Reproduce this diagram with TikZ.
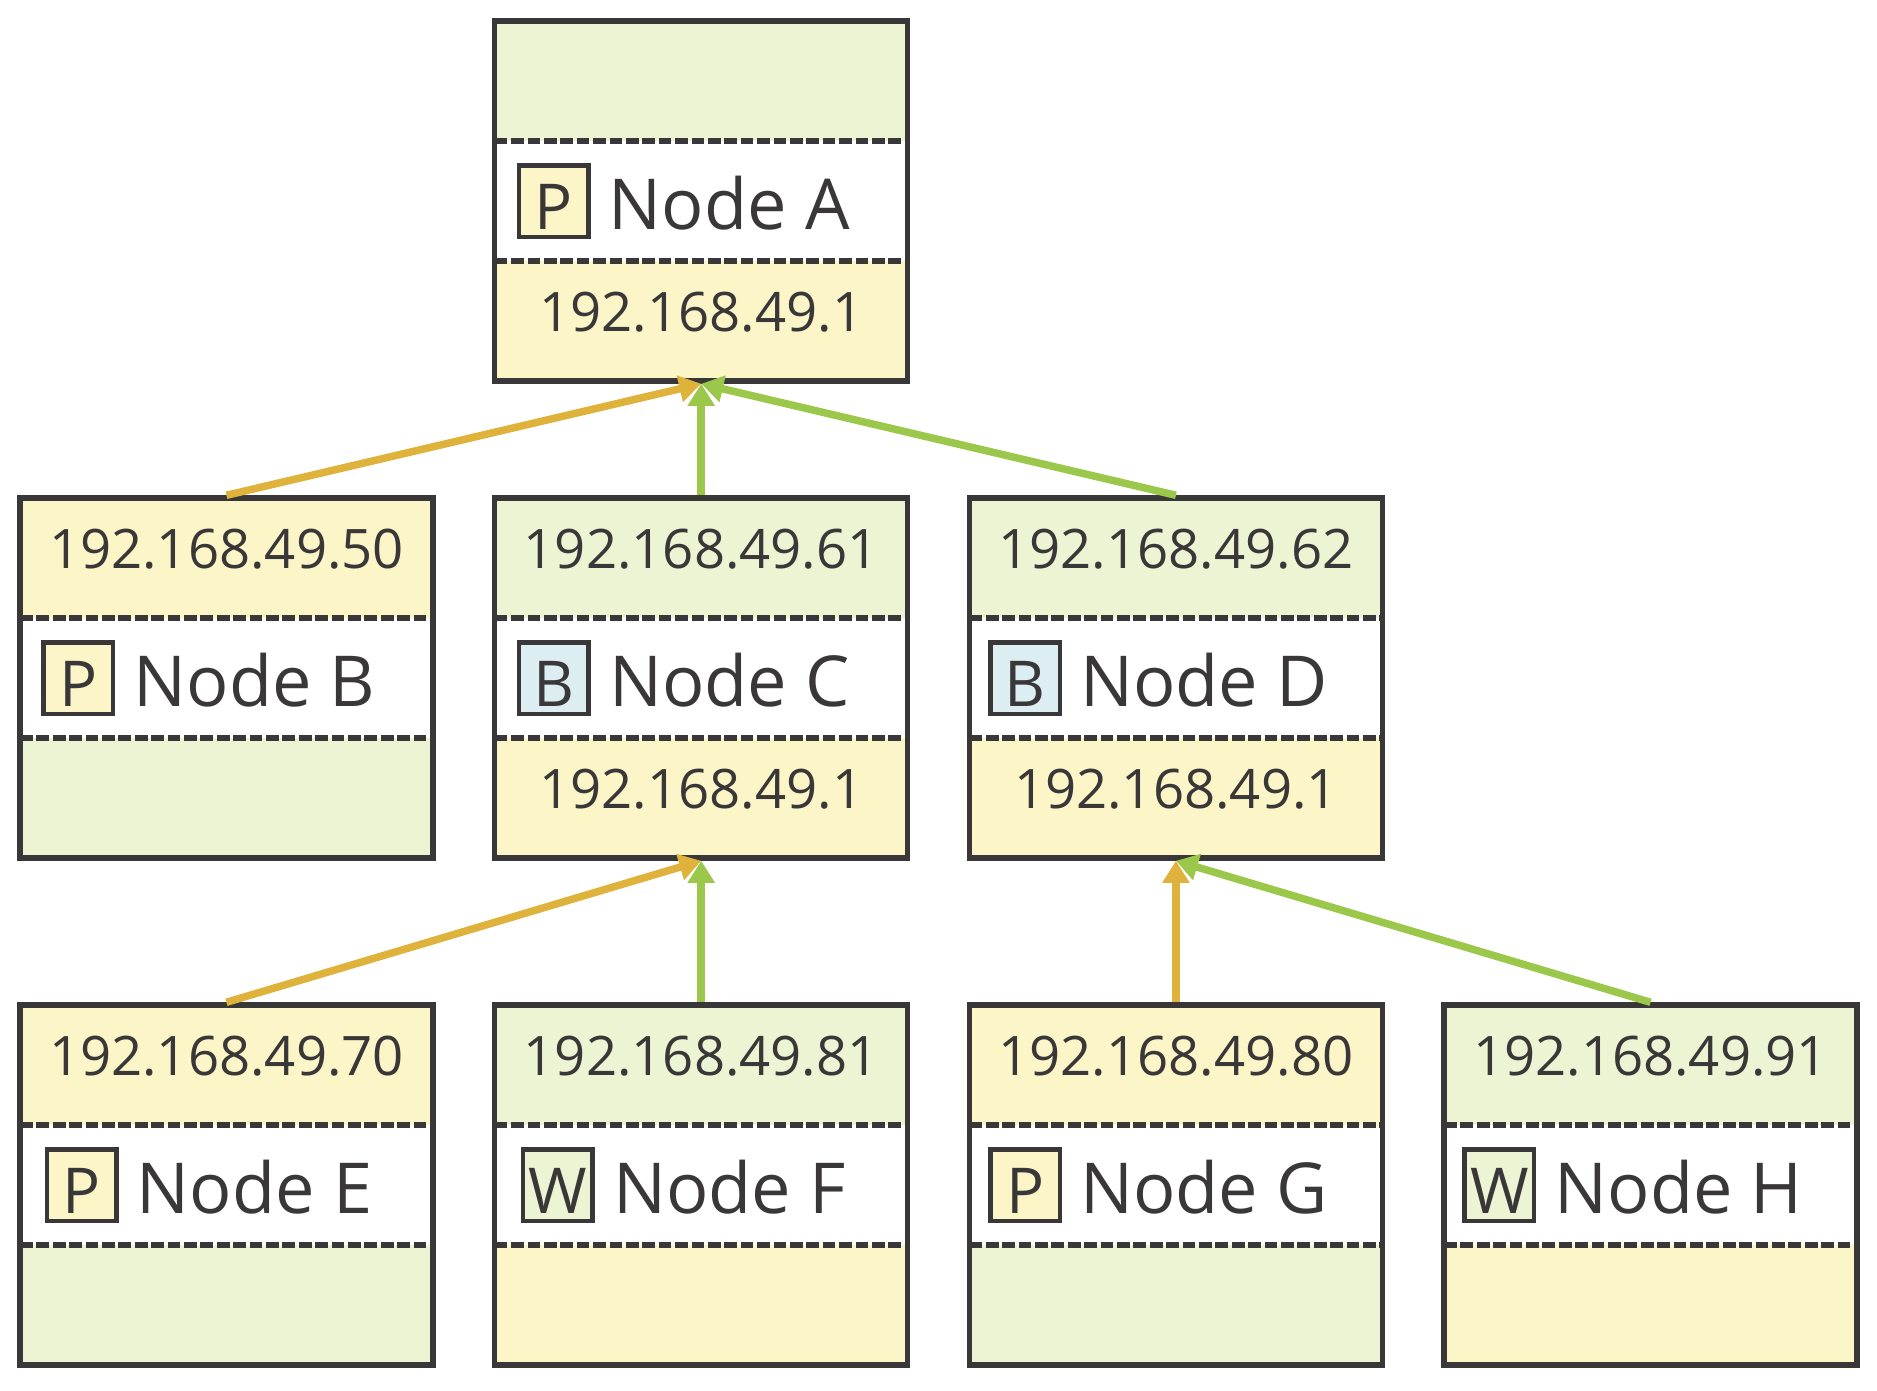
\documentclass[tikz,border=0pt]{standalone}
\usepackage{fontspec}
\setmainfont{Open Sans}
\usepackage{xcolor}
\usepackage{tikz}
\usetikzlibrary{arrows.meta,positioning,fit}

\definecolor{ink}{HTML}{393737}
\definecolor{grn}{HTML}{EDF4D3}
\definecolor{ylw}{HTML}{FCF5C8}
\definecolor{blu}{HTML}{DDEEF3}
\definecolor{amber}{HTML}{DEB23B}
\definecolor{leaf}{HTML}{9BC84A}

\newcommand{\ipfont}{\fontsize{15.5pt}{18pt}\selectfont}
\newcommand{\namefont}{\fontsize{20pt}{24pt}\selectfont}
\newcommand{\hosticon}[2]{{\setlength{\fboxrule}{0.045cm}\setlength{\fboxsep}{0pt}%
  \fcolorbox{ink}{#1}{\rule[-0.055cm]{0pt}{0.67cm}\makebox[0.65cm]{\fontsize{18pt}{18pt}\selectfont #2}}}}

\tikzset{
  band/.style={rectangle, minimum width=4.13cm, minimum height=1.20cm, inner sep=0pt,
    outer sep=0pt, text=ink, font=\ipfont, text depth=0.19cm},
  midband/.style={band, fill=white, font=\namefont, text depth=0.1cm},
  sep/.style={draw=ink, line width=0.052cm, dash pattern=on 0.127cm off 0.037cm},
  frame/.style={draw=ink, line width=0.055cm, inner sep=0pt},
  link/.style={line width=0.075cm, -{Triangle[length=0.22cm,width=0.26cm]}},
}

\begin{document}
\begin{tikzpicture}
  \useasboundingbox (0,0) rectangle (18.77,-13.90);

  % top row
  \draw (4.947,-0.21) node[band,fill=grn,anchor=north west] (A1) {};
  \node[midband,below=0pt of A1] (A2) {\hosticon{ylw}{P} Node A\kern0.36cm};
  \node[band,fill=ylw,below=0pt of A2] (A3) {192.168.49.1};
  \path[sep] (A2.north west) -- (A2.north east) (A2.south west) -- (A2.south east);
  \node[frame,fit=(A1)(A3)] (A) {};

  % middle row
  \draw (0.20,-4.98) node[band,fill=ylw,anchor=north west] (B1) {192.168.49.50};
  \node[midband,below=0pt of B1] (B2) {\hosticon{ylw}{P} Node B\kern0.36cm};
  \node[band,fill=grn,below=0pt of B2] (B3) {};
  \path[sep] (B2.north west) -- (B2.north east) (B2.south west) -- (B2.south east);
  \node[frame,fit=(B1)(B3)] (B) {};

  \draw (4.947,-4.98) node[band,fill=grn,anchor=north west] (C1) {192.168.49.61};
  \node[midband,below=0pt of C1] (C2) {\hosticon{blu}{B} Node C\kern0.36cm};
  \node[band,fill=ylw,below=0pt of C2] (C3) {192.168.49.1};
  \path[sep] (C2.north west) -- (C2.north east) (C2.south west) -- (C2.south east);
  \node[frame,fit=(C1)(C3)] (C) {};

  \draw (9.694,-4.98) node[band,fill=grn,anchor=north west] (D1) {192.168.49.62};
  \node[midband,below=0pt of D1] (D2) {\hosticon{blu}{B} Node D\kern0.36cm};
  \node[band,fill=ylw,below=0pt of D2] (D3) {192.168.49.1};
  \path[sep] (D2.north west) -- (D2.north east) (D2.south west) -- (D2.south east);
  \node[frame,fit=(D1)(D3)] (D) {};

  % bottom row
  \draw (0.20,-10.05) node[band,fill=ylw,anchor=north west] (E1) {192.168.49.70};
  \node[midband,below=0pt of E1] (E2) {\hosticon{ylw}{P} Node E\kern0.36cm};
  \node[band,fill=grn,below=0pt of E2] (E3) {};
  \path[sep] (E2.north west) -- (E2.north east) (E2.south west) -- (E2.south east);
  \node[frame,fit=(E1)(E3)] (E) {};

  \draw (4.947,-10.05) node[band,fill=grn,anchor=north west] (F1) {192.168.49.81};
  \node[midband,below=0pt of F1] (F2) {\hosticon{grn}{W} Node F\kern0.36cm};
  \node[band,fill=ylw,below=0pt of F2] (F3) {};
  \path[sep] (F2.north west) -- (F2.north east) (F2.south west) -- (F2.south east);
  \node[frame,fit=(F1)(F3)] (F) {};

  \draw (9.694,-10.05) node[band,fill=ylw,anchor=north west] (G1) {192.168.49.80};
  \node[midband,below=0pt of G1] (G2) {\hosticon{ylw}{P} Node G\kern0.36cm};
  \node[band,fill=grn,below=0pt of G2] (G3) {};
  \path[sep] (G2.north west) -- (G2.north east) (G2.south west) -- (G2.south east);
  \node[frame,fit=(G1)(G3)] (G) {};

  \draw (14.44,-10.05) node[band,fill=grn,anchor=north west] (H1) {192.168.49.91};
  \node[midband,below=0pt of H1] (H2) {\hosticon{grn}{W} Node H\kern0.36cm};
  \node[band,fill=ylw,below=0pt of H2] (H3) {};
  \path[sep] (H2.north west) -- (H2.north east) (H2.south west) -- (H2.south east);
  \node[frame,fit=(H1)(H3)] (H) {};

  % links to parents
  \path[link,amber] (B.north) edge (A.south);
  \path[link,leaf] (C.north) edge (A.south);
  \path[link,leaf] (D.north) edge (A.south);
  \path[link,amber] (E.north) edge (C.south);
  \path[link,leaf] (F.north) edge (C.south);
  \path[link,amber] (G.north) edge (D.south);
  \path[link,leaf] (H.north) edge (D.south);

\end{tikzpicture}
\end{document}
